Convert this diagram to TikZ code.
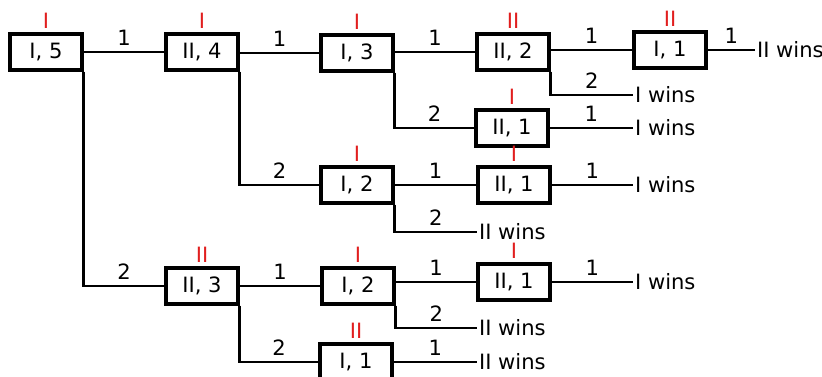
\documentclass[tikz,border=0pt]{standalone}
\usepackage{fontspec}
\setmainfont{DejaVu Sans}
\definecolor{plred}{RGB}{225,30,30}

\begin{document}
\begin{tikzpicture}[x=0.02cm,y=-0.02cm,font=\fontsize{12}{14}\selectfont]

\tikzset{state/.style = {shape=rectangle,draw,line width=0.065cm,minimum width=1.44cm,minimum height=0.72cm,inner sep=0pt}}
\tikzset{player/.style = {label={[plred,inner sep=1pt,label distance=1pt]above:#1}}}
\tikzset{move/.style = {line width=0.045cm}}
\tikzset{result/.style = {anchor=west,inner sep=1pt}}

\useasboundingbox (0,0) rectangle (822,377);

% positions
\node[state, player=I] (n5) at (46,52) {I, 5};
\node[state, player=I] (n4) at (202,52) {II, 4};
\node[state, player=I] (n3) at (357,53) {I, 3};
\node[state, player=II] (n2a) at (513,52) {II, 2};
\node[state, player=II] (n1a) at (670,50) {I, 1};
\node[state, player=I] (n1b) at (512,128) {II, 1};
\node[state, player=I] (n2b) at (357,185) {I, 2};
\node[state, player=I] (n1c) at (514,185) {II, 1};
\node[state, player=II] (n3b) at (202,286) {II, 3};
\node[state, player=I] (n2c) at (358,286) {I, 2};
\node[state, player=I] (n1d) at (514,282) {II, 1};
\node[state, player=II] (n1e) at (356,362) {I, 1};

% outcomes
\node[result] (w1) at (755,50) {II wins};
\node[result] (w2) at (633,95) {I wins};
\node[result] (w3) at (633,128) {I wins};
\node[result] (w4) at (477,232) {II wins};
\node[result] (w5) at (633,185) {I wins};
\node[result] (w6) at (633,282) {I wins};
\node[result] (w7) at (477,328) {II wins};
\node[result] (w8) at (477,362) {II wins};

%moves
\draw[move] (n5) -- node[above] {1} (n4);
\draw[move] (n5.south east) |- node[pos=0.75,above] {2} (n3b);
\draw[move] (n4.east |- n3) -- node[above] {1} (n3);
\draw[move] (n4.south east) |- node[pos=0.75,above] {2} (n2b);
\draw[move] (n3.east |- n2a) -- node[above] {1} (n2a);
\draw[move] (n3.south east) |- node[pos=0.75,above] {2} (n1b);
\draw[move] (n2a.east |- n1a) -- node[above] {1} (n1a);
\draw[move] (n2a.south east) |- node[pos=0.75,above] {2} (w2);
\draw[move] (n1a) -- node[above] {1} (w1);
\draw[move] (n1b) -- node[above] {1} (w3);
\draw[move] (n2b) -- node[above] {1} (n1c);
\draw[move] (n2b.south east) |- node[pos=0.75,above] {2} (w4);
\draw[move] (n1c) -- node[above] {1} (w5);
\draw[move] (n3b) -- node[above] {1} (n2c);
\draw[move] (n3b.south east) |- node[pos=0.75,above] {2} (n1e);
\draw[move] (n2c.east |- n1d) -- node[above] {1} (n1d);
\draw[move] (n2c.south east) |- node[pos=0.75,above] {2} (w7);
\draw[move] (n1d) -- node[above] {1} (w6);
\draw[move] (n1e) -- node[above] {1} (w8);

\end{tikzpicture}
\end{document}
